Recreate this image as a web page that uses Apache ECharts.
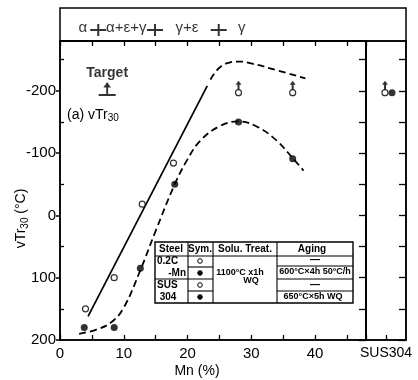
<!DOCTYPE html>
<html><head><meta charset="utf-8">
<script src="https://cdn.jsdelivr.net/npm/echarts@6/dist/echarts.min.js"></script>
<style>html,body{margin:0;padding:0;background:#fff}#c{width:418px;height:380px}</style>
</head><body><div id="c"></div>
<script>
// ---- data ----
const openMn = [4, 8.5, 12.9, 17.8];
const openVal = [150, 100, -18, -84];
const openArrowMn = [28, 36.5];
const openArrowVal = [-197, -197];
const filledMn = [3.8, 8.5, 12.6, 18, 28, 36.5];
const filledVal = [180, 180, 85, -50, -150, -91];
const solidMn = [4.4, 23.1];
const solidVal = [162, -208];
const upperMn = [23.6, 25, 26.5, 28, 30, 34, 38.5];
const upperVal = [-218, -237, -245, -247, -244, -233, -220];
const lowerMn = [3, 5.5, 8, 10, 12.6, 15, 18, 20, 22, 25, 28, 31, 34, 36.5, 38.2];
const lowerVal = [190, 184, 172, 148, 88, 25, -50, -90, -120, -143, -151, -142, -120, -92, -72];
const susPos = [0.475, 0.65];
const susOpenVal = [-197];
const susFilledVal = [-197];
const targetMn = [7.4];
const targetVal = [-203];
const phaseLabels = ['α', 'α+ε+γ', 'γ+ε', 'γ'];
const phasePos = [3.6, 10.4, 19.9, 28.5];
const phaseBounds = [6, 14.9, 24.9];
const yTicks = [-200, -100, 0, 100, 200];
const yMinor = [-250, -150, -50, 50, 150];
const xTicks = [0, 10, 20, 30, 40];
const susLabel = ['SUS304'];

const zip = (a, b) => a.map((v, i) => [v, b[i]]);
const FONT = 'Liberation Sans';
const K = '#000';
const axLine = { show: true, onZero: false, lineStyle: { color: K, width: 1.5 } };
const noLine = { show: false, onZero: false };

const chart = echarts.init(document.getElementById('c'), null, { renderer: 'canvas' });

const tableFont = 'bold 10px "Liberation Sans"';
const smallFont = 'bold 9px "Liberation Sans"';
const T = (text, x, y, align, font) => ({ type: 'text', x, y, style: { text, font: font || tableFont, fill: K, textAlign: align || 'center', textVerticalAlign: 'middle' } });
const L = (x1, y1, x2, y2) => ({ type: 'line', shape: { x1, y1, x2, y2 }, style: { stroke: K, lineWidth: 1.1 } });
const C = (cx, cy, filled) => ({ type: 'circle', shape: { cx, cy, r: 2.3 }, style: { fill: filled ? K : '#fff', stroke: K, lineWidth: 1 } });
const gridBase = { show: true, borderColor: K, borderWidth: 1.5, backgroundColor: 'transparent', containLabel: false, outerBoundsMode: 'none' };

const option = {
  animation: false,
  backgroundColor: '#fff',
  textStyle: { fontFamily: FONT, color: K },
  grid: [
    Object.assign({ left: 60, top: 41, width: 306, height: 299 }, gridBase),
    Object.assign({ left: 366, top: 41, width: 40, height: 299 }, gridBase),
    Object.assign({ left: 60, top: 8, width: 346, height: 33 }, gridBase)
  ],
  xAxis: [
    { gridIndex: 0, type: 'value', position: 'bottom', min: 0, max: 48, interval: 5,
      axisLine: axLine, axisTick: { inside: true, length: 5, lineStyle: { color: K, width: 1.3 } },
      axisLabel: { customValues: xTicks, color: K, fontSize: 15, fontFamily: FONT, margin: 6 },
      splitLine: { show: false },
      name: 'Mn (%)', nameLocation: 'middle', nameGap: 24, nameMoveOverlap: false,
      nameTextStyle: { fontSize: 14, color: K, fontFamily: FONT, padding: [0, 32, 0, 0] } },
    { gridIndex: 0, type: 'value', position: 'top', min: 0, max: 48, interval: 5,
      axisLine: axLine, axisTick: { inside: true, length: 5, lineStyle: { color: K, width: 1.3 } },
      axisLabel: { show: false }, splitLine: { show: false } },
    { gridIndex: 1, type: 'value', position: 'bottom', min: 0, max: 1,
      axisLine: axLine,
      axisTick: { inside: true, length: 5, customValues: [0.5], lineStyle: { color: K, width: 1.3 } },
      axisLabel: { customValues: [0.5], formatter: () => susLabel[0], color: K, fontSize: 14, fontFamily: FONT, margin: 6 },
      splitLine: { show: false } },
    { gridIndex: 2, type: 'value', min: 0, max: 48 * 346 / 306, show: false, axisLine: noLine }
  ],
  yAxis: [
    { gridIndex: 0, type: 'value', position: 'left', inverse: true, min: -280, max: 200,
      axisLine: axLine,
      axisTick: { inside: false, length: 4, customValues: yTicks, lineStyle: { color: K, width: 1.5 } },
      axisLabel: { customValues: yTicks, color: K, fontSize: 15, fontFamily: FONT, margin: 4 },
      splitLine: { show: false },
      name: '{a|vTr}{s|30}{a| (°C)}', nameLocation: 'middle', nameGap: 30, nameMoveOverlap: false,
      nameTextStyle: { color: K, padding: [0, 56, 0, 0],
        rich: { a: { fontSize: 14, fontFamily: FONT, color: K }, s: { fontSize: 10, fontFamily: FONT, color: K, padding: [7, 0, 0, 0] } } } },
    { gridIndex: 0, type: 'value', position: 'left', inverse: true, min: -280, max: 200,
      axisLine: noLine,
      axisTick: { inside: true, length: 4, customValues: yMinor, lineStyle: { color: K, width: 1.3 } },
      axisLabel: { show: false }, splitLine: { show: false } },
    { gridIndex: 0, type: 'value', position: 'right', inverse: true, min: -280, max: 200,
      axisLine: axLine,
      axisTick: { inside: true, length: 7, customValues: yTicks.concat(yMinor), lineStyle: { color: K, width: 1.3 } },
      axisLabel: { show: false }, splitLine: { show: false } },
    { gridIndex: 1, type: 'value', position: 'right', inverse: true, min: -280, max: 200,
      axisLine: axLine,
      axisTick: { inside: true, length: 7, customValues: yTicks.concat(yMinor), lineStyle: { color: K, width: 1.3 } },
      axisLabel: { show: false }, splitLine: { show: false } },
    { gridIndex: 2, type: 'value', min: 0, max: 1, show: false, axisLine: noLine }
  ],
  series: [
    { type: 'line', xAxisIndex: 0, yAxisIndex: 0, data: zip(solidMn, solidVal), symbol: 'none',
      lineStyle: { color: K, width: 1.7 }, z: 3 },
    { type: 'line', xAxisIndex: 0, yAxisIndex: 0, data: zip(upperMn, upperVal), symbol: 'none', smooth: 0.5,
      lineStyle: { color: K, width: 1.8, type: [7, 4] }, z: 3 },
    { type: 'line', xAxisIndex: 0, yAxisIndex: 0, data: zip(lowerMn, lowerVal), symbol: 'none', smooth: 0.4,
      lineStyle: { color: K, width: 1.8, type: [7, 4] }, z: 3 },
    { type: 'scatter', xAxisIndex: 0, yAxisIndex: 0, data: zip(openMn, openVal).concat(zip(openArrowMn, openArrowVal)),
      symbol: 'circle', symbolSize: 6, itemStyle: { color: '#fff', borderColor: K, borderWidth: 1.2 }, z: 5 },
    { type: 'scatter', xAxisIndex: 0, yAxisIndex: 0, data: zip(openArrowMn, openArrowVal),
      symbol: 'path://M3,0L6,5H4V11H2V5H0Z', symbolSize: [6, 9], symbolOffset: [0, -7.5], itemStyle: { color: K }, z: 5 },
    { type: 'scatter', xAxisIndex: 0, yAxisIndex: 0, data: zip(filledMn, filledVal),
      symbol: 'circle', symbolSize: 7, itemStyle: { color: K }, z: 5 },
    { type: 'scatter', xAxisIndex: 0, yAxisIndex: 0, data: zip(targetMn, targetVal),
      symbol: 'path://M9,0L13,6H10V13H18V15H0V13H8V6H5Z', symbolSize: [17, 14], itemStyle: { color: K },
      label: { show: true, position: 'top', distance: 2, formatter: 'Target', fontSize: 14, fontWeight: 'bold', color: K, fontFamily: FONT }, z: 5 },
    { type: 'scatter', xAxisIndex: 2, yAxisIndex: 3, data: [[susPos[0], susOpenVal[0]]],
      symbol: 'circle', symbolSize: 6, itemStyle: { color: '#fff', borderColor: K, borderWidth: 1.2 }, z: 5 },
    { type: 'scatter', xAxisIndex: 2, yAxisIndex: 3, data: [[susPos[0], susOpenVal[0]]],
      symbol: 'path://M3,0L6,5H4V11H2V5H0Z', symbolSize: [6, 9], symbolOffset: [0, -7.5], itemStyle: { color: K }, z: 5 },
    { type: 'scatter', xAxisIndex: 2, yAxisIndex: 3, data: [[susPos[1], susFilledVal[0]]],
      symbol: 'circle', symbolSize: 7, itemStyle: { color: K }, z: 5 },
    { type: 'scatter', xAxisIndex: 3, yAxisIndex: 4, data: phasePos.map((p, i) => ({ value: [p, 0.4], name: phaseLabels[i] })),
      symbolSize: 0, label: { show: true, position: 'inside', formatter: p => p.name, fontSize: 15, color: K, fontFamily: FONT } },
    { type: 'scatter', xAxisIndex: 3, yAxisIndex: 4, data: phaseBounds.map(p => [p, 0.33]),
      symbol: 'path://M0,5h16v2h-16zM7,0h2v12h-2z', symbolSize: [16, 12], itemStyle: { color: K } }
  ],
  graphic: [
    { type: 'text', x: 67, y: 115, style: { text: '{a|(a) vTr}{s|30}', textVerticalAlign: 'middle', fill: K,
      rich: { a: { fontSize: 14, fontFamily: FONT, fill: K }, s: { fontSize: 10, fontFamily: FONT, fill: K, padding: [6, 0, 0, 0] } } } },
    { type: 'rect', shape: { x: 155, y: 242, width: 198, height: 61 }, style: { fill: '#fff', stroke: K, lineWidth: 1.4 } },
    L(188, 242, 188, 303), L(213, 242, 213, 303), L(277, 242, 277, 303),
    L(155, 256, 353, 256), L(155, 279, 213, 279),
    L(188, 267, 213, 267), L(188, 291, 213, 291),
    L(277, 266, 353, 266), L(277, 279, 353, 279), L(277, 291, 353, 291),
    T('Steel', 171, 249), T('Sym.', 200, 249), T('Solu. Treat.', 245, 249), T('Aging', 312, 249),
    T('0.2C', 157, 261, 'left'), T('-Mn', 186, 273, 'right'),
    T('SUS', 157, 285, 'left'), T('304', 168, 297),
    C(200, 261, false), C(200, 273, true), C(200, 285, false), C(200, 297, true),
    T('1100°C x1h', 240, 273, 'center', smallFont), T('WQ', 251, 281, 'center', smallFont),
    T('—', 315, 260), T('600°C×4h 50°C/h', 315, 272, 'center', smallFont), T('—', 315, 285), T('650°C×5h WQ', 313, 297, 'center', smallFont)
  ]
};
chart.setOption(option);
</script>
</body></html>
